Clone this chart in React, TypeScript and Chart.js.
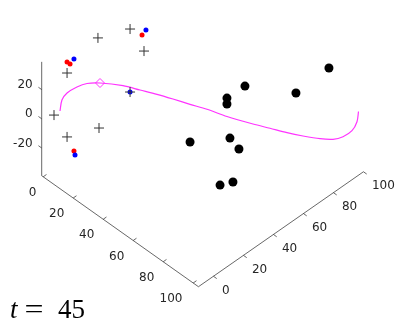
import React, { useEffect, useRef } from "react";
import { Chart, registerables } from "chart.js";

Chart.register(...registerables);

const W = 419;
const H = 333;

// 3D data: [a (front-left axis), b (right axis), z (vertical axis)]
const blackDots = [
  [87.9, 92.6, 26], [57.6, 66.9, 10], [53.9, 58.6, 5], [54.6, 57.9, 2], [81.2, 77.3, 15],
  [45.2, 42.7, -20], [60.0, 54.5, -15], [63.3, 57.2, -22], [63.1, 44.8, -38], [67.3, 49.2, -36],
];
const plusMarks = [
  [6.4, 41.5, 30], [0.0, 26.5, 30], [18.0, 39.2, 25], [0.9, 5.0, 22],
  [1.3, -4.1, 0], [5.6, 0.3, -15], [15.4, 11.8, -10], [25.9, 22.0, 15],
];
const redDots = [[1.2, 4.7, 30], [3.2, 4.7, 30], [15.3, 40.6, 33], [7.6, 2.9, -25]];
const blueDots = [[3.5, 7.0, 32], [16.3, 42.2, 36], [7.8, 3.4, -28], [25.9, 22.0, 15]];
const curve = [
  [1.35, -0.15, 0], [0.25, 2.25, 5], [0.7, 5.2, 8], [1.1, 11.4, 8], [2.78, 16.42, 8],
  [6.84, 21.03, 8], [14.33, 28.87, 6], [20.61, 33.92, 4], [26.89, 38.98, 2], [33.02, 43.51, 0],
  [40.47, 47.4, -1], [47.76, 51.44, -2], [57.1, 55.43, -3], [68.57, 61.3, -4], [75.53, 65.67, -5],
  [82.55, 69.98, -6], [88.71, 74.49, -7], [94.93, 79.6, -8], [98.81, 84.39, -9], [100.2, 89.67, -10],
  [99.63, 96.24, -11], [97.7, 101.5, -10], [94.75, 105.45, -8],
];
const diamond = [[6.84, 21.03, 8]];

const aTicks = [0, 20, 40, 60, 80, 100];
const bTicks = [0, 20, 40, 60, 80, 100];
const zTicks = [-20, 0, 20];
const aLim = [-1, 103.5];
const bLim = [-10, 100];
const zLim = [-39, 39];
const timeValue = 45;

// view (orthographic projection)
const ORIGIN = [58.2, 109.4];
const EA = [1.5, 1.062];
const EB = [1.5, -1.045];
const EZ = [0, -1.46];

function project(a: number, b: number, z: number) {
  return {
    x: ORIGIN[0] + a * EA[0] + b * EB[0] + z * EZ[0],
    y: ORIGIN[1] + a * EA[1] + b * EB[1] + z * EZ[1],
  };
}
const toXY = (arr: number[][]) => arr.map((p) => project(p[0], p[1], p[2]));

function unit(v: number[]) {
  const l = Math.hypot(v[0], v[1]);
  return [v[0] / l, v[1] / l];
}

const axesPlugin = {
  id: "axes3d",
  beforeDatasetsDraw(chart: any) {
    const ctx = chart.ctx;
    const sx = chart.scales.x;
    const sy = chart.scales.y;
    const P = (a: number, b: number, z: number) => {
      const p = project(a, b, z);
      return [sx.getPixelForValue(p.x), sy.getPixelForValue(p.y)];
    };
    const ua = unit(EA);
    const ub = unit(EB);
    const tl = 4;
    ctx.save();
    ctx.strokeStyle = "#262626";
    ctx.lineWidth = 0.7;
    const top = P(aLim[0], bLim[0], zLim[1]);
    const c0 = P(aLim[0], bLim[0], zLim[0]);
    const c1 = P(aLim[1], bLim[0], zLim[0]);
    const c2 = P(aLim[1], bLim[1], zLim[0]);
    ctx.beginPath();
    ctx.moveTo(top[0], top[1]);
    ctx.lineTo(c0[0], c0[1]);
    ctx.lineTo(c1[0], c1[1]);
    ctx.lineTo(c2[0], c2[1]);
    ctx.stroke();

    ctx.font = '12px "DejaVu Sans"';
    ctx.fillStyle = "#262626";
    ctx.textBaseline = "middle";

    // z ticks
    ctx.textAlign = "right";
    zTicks.forEach((z) => {
      const p = P(aLim[0], bLim[0], z);
      ctx.beginPath();
      ctx.moveTo(p[0], p[1]);
      ctx.lineTo(p[0] - ua[0] * tl, p[1] - ua[1] * tl);
      ctx.stroke();
      ctx.fillText(String(z), p[0] - 9, p[1] - 4.5);
    });
    // a ticks
    ctx.textAlign = "center";
    aTicks.forEach((a) => {
      const p = P(a, bLim[0], zLim[0]);
      ctx.beginPath();
      ctx.moveTo(p[0], p[1]);
      ctx.lineTo(p[0] + ub[0] * tl, p[1] + ub[1] * tl);
      ctx.stroke();
      const s = String(a);
      const w = ctx.measureText(s).width;
      ctx.fillText(s, p[0] - 5 - 0.75 * w, p[1] + 16);
    });
    // b ticks
    ctx.textAlign = "left";
    bTicks.forEach((b) => {
      const p = P(aLim[1], b, zLim[0]);
      ctx.beginPath();
      ctx.moveTo(p[0], p[1]);
      ctx.lineTo(p[0] + ua[0] * tl, p[1] + ua[1] * tl);
      ctx.stroke();
      ctx.fillText(String(b), p[0] + 8.5, p[1] + 14.5);
    });
    ctx.restore();
  },
  afterDraw(chart: any) {
    const ctx = chart.ctx;
    ctx.save();
    ctx.fillStyle = "#000";
    ctx.textBaseline = "alphabetic";
    ctx.textAlign = "left";
    ctx.font = 'italic 27px "Liberation Serif"';
    ctx.fillText("t", 10, 318);
    ctx.font = '27px "Liberation Serif"';
    ctx.save();
    ctx.translate(34, 0);
    ctx.scale(1.25, 1);
    ctx.textAlign = "center";
    ctx.fillText("=", 0, 318);
    ctx.restore();
    ctx.textAlign = "left";
    ctx.fillText(String(timeValue), 58, 318);
    ctx.restore();
  },
};

export default function App() {
  const ref = useRef<HTMLCanvasElement>(null);
  useEffect(() => {
    if (!ref.current) return;
    const chart = new Chart(ref.current, {
      type: "scatter",
      data: {
        datasets: [
          {
            data: toXY(curve),
            showLine: true,
            tension: 0.3,
            borderColor: "#ff33ff",
            borderWidth: 1.2,
            pointRadius: 0,
            order: 6,
          } as any,
          {
            data: toXY(diamond),
            pointStyle: "rectRot",
            pointRadius: 4.5,
            borderColor: "#ff33ff",
            backgroundColor: "rgba(0,0,0,0)",
            borderWidth: 1,
            order: 5,
          },
          {
            data: toXY(blackDots),
            pointRadius: 4.5,
            backgroundColor: "#000",
            borderColor: "#000",
            borderWidth: 0,
            order: 4,
          },
          {
            data: toXY(redDots),
            pointRadius: 2.5,
            backgroundColor: "#ff0000",
            borderColor: "#ff0000",
            borderWidth: 0,
            order: 3,
          },
          {
            data: toXY(blueDots),
            pointRadius: 2.5,
            backgroundColor: "#0000ff",
            borderColor: "#0000ff",
            borderWidth: 0,
            order: 2,
          },
          {
            data: toXY(plusMarks),
            pointStyle: "cross",
            pointRadius: 5,
            borderColor: "#333333",
            borderWidth: 1,
            order: 1,
          },
        ],
      },
      options: {
        animation: false,
        responsive: false,
        devicePixelRatio: 1,
        layout: { padding: 0, autoPadding: false },
        events: [],
        plugins: { legend: { display: false }, tooltip: { enabled: false } },
        scales: {
          x: { type: "linear", min: 0, max: W, display: false },
          y: { type: "linear", min: 0, max: H, reverse: true, display: false },
        },
      },
      plugins: [axesPlugin],
    });
    return () => chart.destroy();
  }, []);
  return (
    <div style={{ position: "fixed", left: 0, top: 0, width: W, height: H, background: "#fff" }}>
      <canvas ref={ref} width={W} height={H} />
    </div>
  );
}
